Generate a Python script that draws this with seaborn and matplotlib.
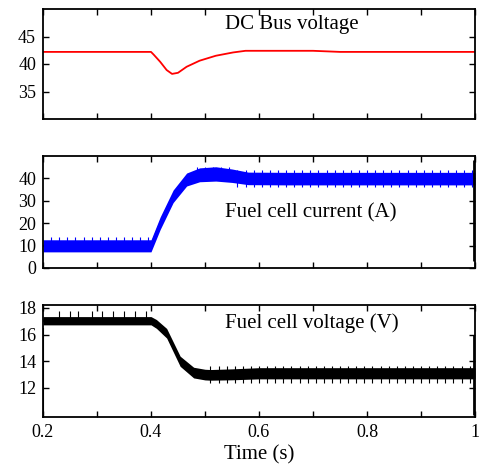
import matplotlib
matplotlib.use("Agg")
import matplotlib.pyplot as plt
import seaborn as sns
import pandas as pd
import numpy as np

# ---- data ----
t_bus = [0.2, 0.4, 0.405, 0.417, 0.429, 0.439, 0.45, 0.466, 0.49, 0.52, 0.552, 0.575, 0.70, 0.75, 1.0]
v_bus = [42.2, 42.2, 41.7, 40.4, 38.9, 38.2, 38.4, 39.5, 40.6, 41.5, 42.1, 42.4, 42.4, 42.2, 42.2]

t_cur = [0.2, 0.4, 0.417, 0.441, 0.466, 0.49, 0.52, 0.55, 0.58, 0.65, 1.0]
i_cur = [9.9, 9.9, 20.0, 32.0, 39.5, 41.6, 42.0, 41.2, 40.0, 39.9, 39.9]
i_ripple = [2.7, 2.7, 2.8, 2.8, 2.9, 3.1, 3.2, 3.0, 2.8, 2.8, 2.8]

t_vfc = [0.2, 0.4, 0.41, 0.429, 0.454, 0.479, 0.5, 0.51, 0.55, 0.6, 0.7, 1.0]
v_fc = [17.04, 17.04, 16.8, 16.1, 14.0, 13.15, 13.0, 12.98, 13.02, 13.1, 13.1, 13.1]
v_ripple = [0.31, 0.31, 0.33, 0.36, 0.38, 0.4, 0.4, 0.4, 0.41, 0.42, 0.42, 0.42]

# ripple spikes (times, lower tip, upper tip)
cur_spikes_early = [0.215, 0.23, 0.245, 0.26, 0.275, 0.29, 0.305, 0.32, 0.335, 0.35, 0.365, 0.38, 0.395]
cur_spikes_peak = [0.485, 0.50, 0.515, 0.53, 0.545]
cur_spikes_late = [0.56, 0.575, 0.59, 0.605, 0.62, 0.635, 0.65, 0.665, 0.68, 0.695, 0.71, 0.725,
                   0.74, 0.755, 0.77, 0.785, 0.80, 0.815, 0.83, 0.845, 0.86, 0.875, 0.89, 0.905,
                   0.92, 0.935, 0.95, 0.965, 0.98, 0.995]
cur_spike_range = {"early": (9.9, 13.8), "peak": (41.5, 45.3), "late": (36.0, 43.6)}

vfc_spikes_early = [0.23, 0.25, 0.265, 0.29, 0.31, 0.33, 0.35, 0.37, 0.39]
vfc_spikes_late = [0.51, 0.525, 0.54, 0.555, 0.57, 0.585, 0.60, 0.615, 0.63, 0.645, 0.66, 0.675,
                   0.69, 0.705, 0.72, 0.735, 0.75, 0.765, 0.78, 0.795, 0.81, 0.825, 0.84, 0.855,
                   0.87, 0.885, 0.90, 0.915, 0.93, 0.945, 0.96, 0.975, 0.99]
vfc_spike_range = {"early": (17.0, 17.8), "late": (12.35, 13.65)}

x_tick_labels = ["0.2", "", "0.4", "", "0.6", "", "0.8", "", "1"]

sns.set_theme(style="ticks")
plt.rcParams["font.family"] = ["Liberation Serif", "DejaVu Serif"]
plt.rcParams["text.color"] = "black"
plt.rcParams["axes.labelcolor"] = "black"

fig = plt.figure(figsize=(4.81, 4.66), dpi=100)
W, H = 481, 466
def box(l, t, r, b):
    return [l / W, 1 - b / H, (r - l) / W, (b - t) / H]

ax1 = fig.add_axes(box(43, 9, 475, 119))
ax2 = fig.add_axes(box(43, 156, 475, 268))
ax3 = fig.add_axes(box(43, 305, 475, 417))

# panel 1: DC bus voltage
df_bus = pd.DataFrame({"t": t_bus, "v": v_bus})
sns.lineplot(data=df_bus, x="t", y="v", ax=ax1, color="#ff0000", linewidth=1.3)

# panel 2: fuel cell current
df_cur = pd.DataFrame({"t": t_cur, "i": i_cur, "r": i_ripple})
ax2.fill_between(df_cur["t"], df_cur["i"] - df_cur["r"], df_cur["i"] + df_cur["r"],
                 color="#0000ff", linewidth=0)
sns.lineplot(data=df_cur, x="t", y="i", ax=ax2, color="#0000ff", linewidth=1.5)
for key, times in (("early", cur_spikes_early), ("peak", cur_spikes_peak), ("late", cur_spikes_late)):
    lo, hi = cur_spike_range[key]
    ax2.vlines(times, lo, hi, color="#0000ff", linewidth=0.8)
ax2.vlines([0.999], 3, 48, color="black", linewidth=2.0)

# panel 3: fuel cell voltage
df_v = pd.DataFrame({"t": t_vfc, "v": v_fc, "r": v_ripple})
ax3.fill_between(df_v["t"], df_v["v"] - df_v["r"], df_v["v"] + df_v["r"],
                 color="black", linewidth=0)
sns.lineplot(data=df_v, x="t", y="v", ax=ax3, color="black", linewidth=1.5)
for key, times in (("early", vfc_spikes_early), ("late", vfc_spikes_late)):
    lo, hi = vfc_spike_range[key]
    ax3.vlines(times, lo, hi, color="black", linewidth=0.8)
ax3.vlines([0.999], 10.0, 16.0, color="black", linewidth=2.0)
ax3.vlines([0.2005], 10.0, 16.5, color="black", linewidth=1.5)

ax1.set_ylim(30, 50); ax1.set_yticks([35, 40, 45])
ax2.set_ylim(0, 50); ax2.set_yticks([0, 10, 20, 30, 40])
ax3.set_ylim(9.82, 18.22); ax3.set_yticks([12, 14, 16, 18])

for ax in (ax1, ax2, ax3):
    ax.set_xlim(0.2, 1.0)
    ax.set_xticks(np.arange(2, 11) / 10)
    ax.set_xlabel(""); ax.set_ylabel("")
    ax.tick_params(direction="in", top=True, right=True, length=4, width=1,
                   labelsize=13, pad=5, colors="black")
    for s in ax.spines.values():
        s.set_linewidth(1.3); s.set_color("black")
    ax.grid(False)

ax1.set_xticklabels([]); ax2.set_xticklabels([])
ax3.set_xticklabels(x_tick_labels)
ax3.set_xlabel("Time (s)", fontsize=15, labelpad=3, color="black")

ax1.text(0.421, 0.855, "DC Bus voltage", transform=ax1.transAxes, fontsize=15, va="center", color="black")
ax2.text(0.421, 0.49, "Fuel cell current (A)", transform=ax2.transAxes, fontsize=15, va="center", color="black")
ax3.text(0.421, 0.842, "Fuel cell voltage (V)", transform=ax3.transAxes, fontsize=15, va="center", color="black")

fig.savefig("out.png", dpi=100)
